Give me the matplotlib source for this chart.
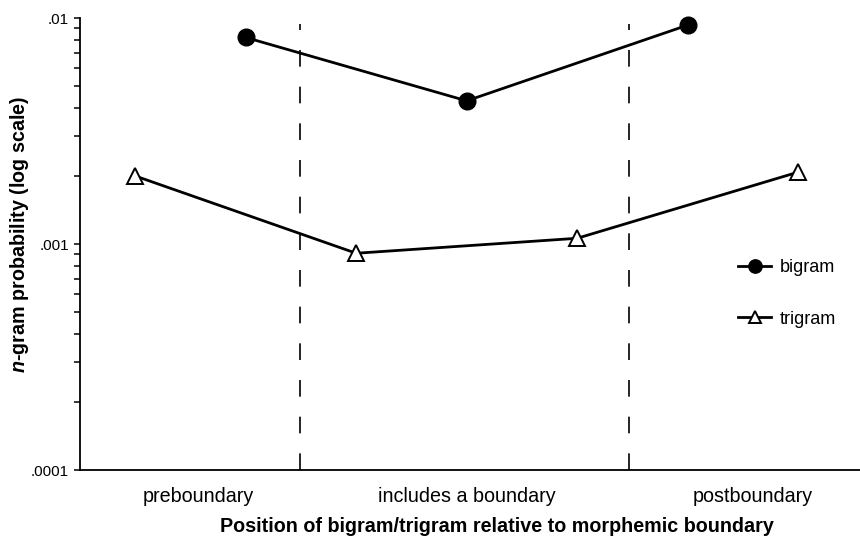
import matplotlib
matplotlib.use("Agg")
import matplotlib.pyplot as plt
from matplotlib.ticker import FixedLocator, FixedFormatter, LogLocator, NullFormatter

# data
bigram_pos = [1.5, 3.5, 5.5]
bigram_prob = [0.0082, 0.0043, 0.0093]
trigram_pos = [0.5, 2.5, 4.5, 6.5]
trigram_prob = [0.0020, 0.00091, 0.00106, 0.00208]
region_names = ["preboundary", "includes a boundary", "postboundary"]
region_centers = [1.07, 3.5, 6.09]
boundaries = [1.99, 4.97]
ytick_vals = [0.0001, 0.001, 0.01]
ytick_labels = [".0001", ".001", ".01"]

plt.rcParams['font.family'] = ['Liberation Sans', 'DejaVu Sans']
plt.rcParams['mathtext.fontset'] = 'custom'
plt.rcParams['mathtext.it'] = 'Liberation Sans:italic:bold'
plt.rcParams['mathtext.rm'] = 'Liberation Sans:bold'


def main():
    fig = plt.figure(figsize=(8.6, 5.37), dpi=100)
    ax = fig.add_axes([80 / 860, 67 / 537, 780 / 860, 452 / 537])

    for b in boundaries:
        ax.plot([b, b], [0.0001, 0.0094], color='black', lw=1.2,
                dashes=(10, 12), zorder=1)

    ax.plot(bigram_pos, bigram_prob, color='black', lw=2, marker='o',
            markersize=12, markerfacecolor='black', label='bigram',
            clip_on=False, zorder=3)
    ax.plot(trigram_pos, trigram_prob, color='black', lw=2, marker='^',
            markersize=11.5, markerfacecolor='white', markeredgewidth=1.4,
            label='trigram', clip_on=False, zorder=3)

    ax.set_yscale('log')
    ax.set_ylim(0.0001, 0.01)
    ax.set_xlim(0, 7.06)
    ax.yaxis.set_major_locator(FixedLocator(ytick_vals))
    ax.yaxis.set_major_formatter(FixedFormatter(ytick_labels))
    ax.yaxis.set_minor_locator(LogLocator(base=10, subs=range(2, 10)))
    ax.yaxis.set_minor_formatter(NullFormatter())
    ax.tick_params(axis='y', which='both', direction='out', length=4,
                   width=1.1, labelsize=11, pad=4)

    ax.set_xticks(region_centers)
    ax.set_xticklabels(region_names, fontsize=14.2)
    ax.tick_params(axis='x', length=0, pad=12)

    for s in ['top', 'right']:
        ax.spines[s].set_visible(False)
    for s in ['left', 'bottom']:
        ax.spines[s].set_linewidth(1.3)

    fig.text(497 / 860, 1 - 526 / 537,
             'Position of bigram/trigram relative to morphemic boundary',
             fontsize=14.2, fontweight='bold', ha='center', va='center')
    fig.text(20 / 860, 1 - 234 / 537, r'$\it{n}$-gram probability (log scale)',
             fontsize=14.2, fontweight='bold', rotation=90,
             ha='center', va='center')

    ax.legend(loc='upper left', bbox_to_anchor=(0.844, 0.466), frameon=False,
              fontsize=13, handlelength=1.8, markerscale=0.8,
              labelspacing=1.9, borderpad=0, borderaxespad=0, handletextpad=0.5)

    fig.savefig('out.png', dpi=100)
    plt.close(fig)


if __name__ == '__main__':
    main()
